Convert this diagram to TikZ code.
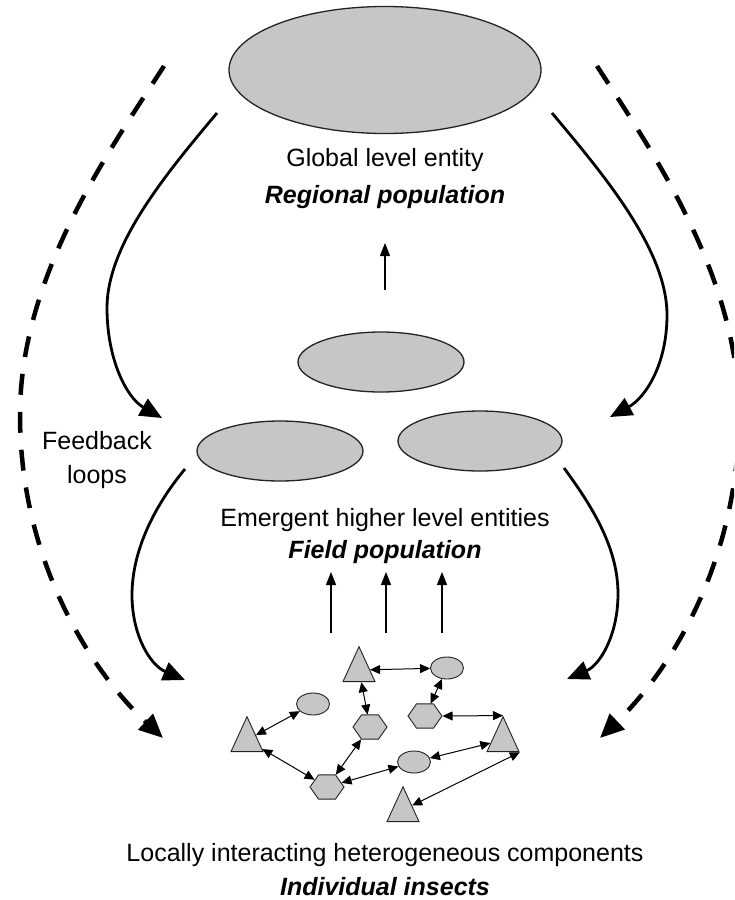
\documentclass[tikz,border=0pt]{standalone}
\usepackage{fontspec}
\setmainfont{Liberation Sans}
\usetikzlibrary{arrows.meta,shapes.geometric}
\definecolor{blobfill}{RGB}{198,198,198}
\definecolor{blobline}{RGB}{35,35,35}
\begin{document}
\begin{tikzpicture}[x=1pt,y=-1pt,
  blob/.style={ellipse, draw=blobline, fill=blobfill, line width=1.3pt, inner sep=0pt},
  agentell/.style={ellipse, draw=blobline, fill=blobfill, line width=0.9pt,
    minimum width=33pt, minimum height=22pt, inner sep=0pt},
  agenttri/.style={regular polygon, regular polygon sides=3, draw=blobline, fill=blobfill,
    line width=0.9pt, minimum size=37pt, inner sep=0pt, yscale=1.26, transform shape},
  agenthex/.style={regular polygon, regular polygon sides=6, draw=blobline, fill=blobfill,
    line width=0.9pt, minimum size=34pt, inner sep=0pt, yscale=0.82, transform shape},
  lbl/.style={font=\fontsize{25}{30}\selectfont, inner sep=0pt},
  lblbi/.style={font=\fontsize{25}{30}\selectfont\bfseries\itshape, inner sep=0pt},
  link/.style={line width=1pt, {Triangle[length=10pt,width=9pt]}-{Triangle[length=10pt,width=9pt]}},
  rise/.style={line width=1.2pt, -{Triangle[length=13pt,width=10pt]}},
  loopsolid/.style={line width=2.8pt, -{Triangle[length=22pt,width=19pt]}},
  loopdash/.style={line width=4.5pt, dash pattern=on 21pt off 17pt, -{Triangle[length=24pt,width=21pt]}}
]
\useasboundingbox (0,0) rectangle (734,900);
\clip (0,0) rectangle (734,900);

% top level: regional population
\node[blob, minimum width=312pt, minimum height=127pt] (global) at (385,70) {};
\node[lbl] (tGlobal) at (385,160) {Global level entity};
\node[lblbi] (tRegional) at (385,197) {Regional population};

% middle level: field populations
\node[blob, minimum width=166pt, minimum height=60pt] (fieldA) at (381,362) {};
\node[blob, minimum width=166pt, minimum height=60pt] (fieldB) at (280,451) {};
\node[blob, minimum width=164pt, minimum height=60pt] (fieldC) at (480,441) {};
\node[lbl] (tEmergent) at (385,520) {Emergent higher level entities};
\node[lblbi] (tField) at (385,552) {Field population};

\node[lbl, align=center, font=\fontsize{25}{34}\selectfont] (tFeedback) at (97,460) {Feedback\\loops};

% bottom level: individual insects
\node[agenttri] (T1) at (359,670) {};
\node[agenttri] (T2) at (247,740) {};
\node[agenttri] (T3) at (503,740) {};
\node[agenttri] (T4) at (403,810) {};
\node[agentell] (E1) at (447,668) {};
\node[agentell] (E2) at (313,704) {};
\node[agentell] (E3) at (414,762) {};
\node[agenthex] (H1) at (370,727) {};
\node[agenthex] (H2) at (425,716) {};
\node[agenthex] (H3) at (327,787) {};

\node[lbl] (tLocal) at (385,855) {Locally interacting heterogeneous components};
\node[lblbi] (tIndiv) at (385,887) {Individual insects};

% interactions between individuals
\draw[link] (T1) -- (E1);
\draw[link] (T1) -- (H1);
\draw[link] (E1) -- (H2);
\draw[link] (H2.east) -- (T3.corner 1);
\draw[link] (E2) -- (T2);
\draw[link] (T2) -- (H3);
\draw[link] (H1) -- (H3);
\draw[link] (H3) -- (E3);
\draw[link] (E3) -- (T3);
\draw[link] (T4) -- (T3.corner 3);

% emergence arrows
\coordinate (rTop) at (385,290);
\draw[rise] (rTop) -- (385,243);
\coordinate (r1) at (331,633);
\coordinate (r2) at (386,633);
\coordinate (r3) at (442,633);
\draw[rise] (r1) -- (331,572);
\draw[rise] (r2) -- (386,572);
\draw[rise] (r3) -- (442,572);

% downward influence
\coordinate (sL1s) at (217,113);
\coordinate (sL1m) at (107,308);
\coordinate (sL1e) at (162,418);
\draw[loopsolid] (sL1s) .. controls (165,175) and (107,245) .. (sL1m)
  .. controls (107,360) and (127,398) .. (sL1e);
\coordinate (sR1s) at (552,113);
\coordinate (sR1m) at (667,315);
\coordinate (sR1e) at (610,417);
\draw[loopsolid] (sR1s) .. controls (604,175) and (667,250) .. (sR1m)
  .. controls (667,365) and (645,398) .. (sR1e);
\coordinate (sL2s) at (185,469);
\coordinate (sL2m) at (132,595);
\coordinate (sL2e) at (185,680);
\draw[loopsolid] (sL2s) .. controls (155,505) and (132,550) .. (sL2m)
  .. controls (132,635) and (150,665) .. (sL2e);
\coordinate (sR2s) at (564,468);
\coordinate (sR2m) at (618,594);
\coordinate (sR2e) at (567,679);
\draw[loopsolid] (sR2s) .. controls (595,510) and (618,550) .. (sR2m)
  .. controls (618,635) and (600,665) .. (sR2e);

% feedback loops
\coordinate (dLs) at (164,66);
\coordinate (dLm) at (20,415);
\coordinate (dLe) at (163,738);
\draw[loopdash] (dLs) .. controls (110,150) and (20,275) .. (dLm)
  .. controls (20,560) and (90,670) .. (dLe);
\coordinate (dRs) at (597,66);
\coordinate (dRm) at (739,415);
\coordinate (dRe) at (600,738);
\draw[loopdash] (dRs) .. controls (651,150) and (739,275) .. (dRm)
  .. controls (739,560) and (671,670) .. (dRe);
\end{tikzpicture}
\end{document}
